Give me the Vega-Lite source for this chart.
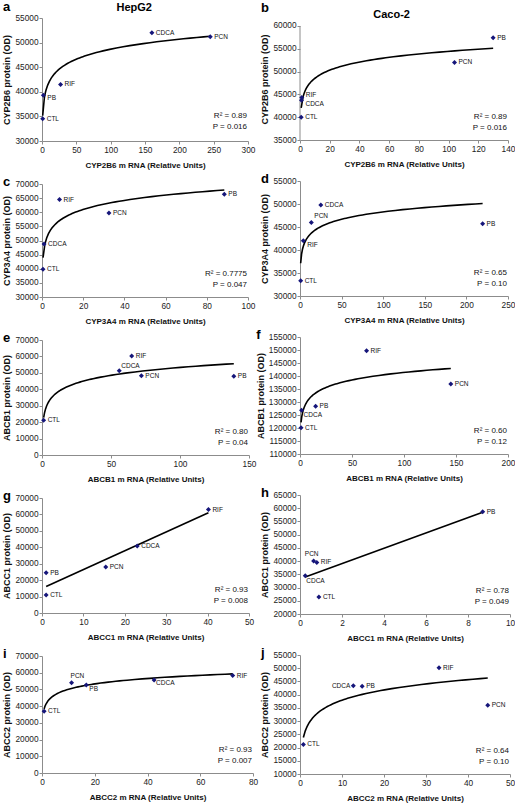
{
  "$schema": "https://vega.github.io/schema/vega-lite/v6.json",
  "padding": {"left": 2, "top": 1, "right": 0, "bottom": 0},
  "background": "white",
  "data": {"values": [
    {"panel": "a", "label": "CTL", "mrna": 1.0, "protein": 34500},
    {"panel": "a", "label": "PB", "mrna": 2.0, "protein": 39300},
    {"panel": "a", "label": "RIF", "mrna": 27, "protein": 41500},
    {"panel": "a", "label": "CDCA", "mrna": 160, "protein": 52000},
    {"panel": "a", "label": "PCN", "mrna": 245, "protein": 51200},
    {"panel": "b", "label": "CTL", "mrna": 0.8, "protein": 40000},
    {"panel": "b", "label": "RIF", "mrna": 1.2, "protein": 44300},
    {"panel": "b", "label": "CDCA", "mrna": 1.0, "protein": 43700},
    {"panel": "b", "label": "PCN", "mrna": 104, "protein": 52000},
    {"panel": "b", "label": "PB", "mrna": 130, "protein": 57400},
    {"panel": "c", "label": "CTL", "mrna": 0.5, "protein": 39800},
    {"panel": "c", "label": "CDCA", "mrna": 1.0, "protein": 48800},
    {"panel": "c", "label": "RIF", "mrna": 8.5, "protein": 64500},
    {"panel": "c", "label": "PCN", "mrna": 32.5, "protein": 59700},
    {"panel": "c", "label": "PB", "mrna": 88.5, "protein": 66400},
    {"panel": "d", "label": "CTL", "mrna": 0.8, "protein": 33300},
    {"panel": "d", "label": "RIF", "mrna": 4.0, "protein": 42000},
    {"panel": "d", "label": "PCN", "mrna": 13.6, "protein": 46000},
    {"panel": "d", "label": "CDCA", "mrna": 25, "protein": 49800},
    {"panel": "d", "label": "PB", "mrna": 219.5, "protein": 45700},
    {"panel": "e", "label": "CTL", "mrna": 1.2, "protein": 21200},
    {"panel": "e", "label": "CDCA", "mrna": 56, "protein": 51300},
    {"panel": "e", "label": "RIF", "mrna": 65, "protein": 60200},
    {"panel": "e", "label": "PCN", "mrna": 72, "protein": 48300},
    {"panel": "e", "label": "PB", "mrna": 139, "protein": 48000},
    {"panel": "f", "label": "CTL", "mrna": 1.0, "protein": 120100},
    {"panel": "f", "label": "CDCA", "mrna": 1.5, "protein": 126800},
    {"panel": "f", "label": "PB", "mrna": 15, "protein": 128400},
    {"panel": "f", "label": "RIF", "mrna": 64, "protein": 149700},
    {"panel": "f", "label": "PCN", "mrna": 145, "protein": 136900},
    {"panel": "g", "label": "CTL", "mrna": 1.0, "protein": 10900},
    {"panel": "g", "label": "PB", "mrna": 1.0, "protein": 24500},
    {"panel": "g", "label": "PCN", "mrna": 15.4, "protein": 28000},
    {"panel": "g", "label": "CDCA", "mrna": 23, "protein": 40800},
    {"panel": "g", "label": "RIF", "mrna": 40.2, "protein": 63000},
    {"panel": "h", "label": "CDCA", "mrna": 0.25, "protein": 34500},
    {"panel": "h", "label": "PCN", "mrna": 0.65, "protein": 40000},
    {"panel": "h", "label": "RIF", "mrna": 0.8, "protein": 39500},
    {"panel": "h", "label": "CTL", "mrna": 0.9, "protein": 26400},
    {"panel": "h", "label": "PB", "mrna": 8.7, "protein": 58700},
    {"panel": "i", "label": "CTL", "mrna": 0.8, "protein": 37000},
    {"panel": "i", "label": "PCN", "mrna": 11.2, "protein": 54000},
    {"panel": "i", "label": "PB", "mrna": 16.8, "protein": 52600},
    {"panel": "i", "label": "CDCA", "mrna": 42.5, "protein": 55600},
    {"panel": "i", "label": "RIF", "mrna": 72.3, "protein": 58300},
    {"panel": "j", "label": "CTL", "mrna": 0.8, "protein": 21200},
    {"panel": "j", "label": "CDCA", "mrna": 12.7, "protein": 43400},
    {"panel": "j", "label": "PB", "mrna": 14.8, "protein": 43200},
    {"panel": "j", "label": "RIF", "mrna": 33.1, "protein": 50200},
    {"panel": "j", "label": "PCN", "mrna": 44.7, "protein": 36000}
  ]},
  "config": {
    "font": "Liberation Sans",
    "view": {"stroke": null},
    "axis": {"grid": false, "domainColor": "#8c8c8c", "tickColor": "#8c8c8c", "tickSize": 3, "labelFont": "Liberation Sans", "labelFontSize": 8.3, "labelColor": "#222222", "labelPadding": 1, "labelFlush": false, "labelOverlap": false, "labelBound": false, "titleFont": "Liberation Sans", "titleFontSize": 9, "titleFontWeight": "bold", "titleColor": "#111111"},
    "axisX": {"titlePadding": 8, "titleFontSize": 8},
    "axisY": {"titlePadding": 3},
    "title": {"font": "Liberation Sans", "fontWeight": "bold", "fontSize": 13, "color": "#000000", "anchor": "start"},
    "text": {"font": "Liberation Sans", "color": "#111111"}
  },
  "spacing": -2,
  "hconcat": [
    {
      "title": {"text": "HepG2", "anchor": "middle", "fontSize": 11, "offset": -12, "dx": 4},
      "bounds": "flush",
      "spacing": 43,
      "vconcat": [
        {
          "width": 206, "height": 123,
          "title": {"text": "a", "offset": -1},
          "transform": [{"filter": "datum.panel === 'a'"}],
          "encoding": {
            "x": {"field": "mrna", "type": "quantitative", "scale": {"domain": [0, 300], "nice": false, "zero": false}, "axis": {"title": "CYP2B6 m RNA (Relative Units)", "values": [0, 50, 100, 150, 200, 250, 300], "format": "d"}},
            "y": {"field": "protein", "type": "quantitative", "scale": {"domain": [30000, 55000], "nice": false, "zero": false}, "axis": {"title": "CYP2B6 protein (OD)", "values": [30000, 35000, 40000, 45000, 50000, 55000], "format": "d"}}
          },
          "layer": [
            {"transform": [{"regression": "protein", "on": "mrna", "method": "log"}], "mark": {"type": "line", "color": "#000000", "strokeWidth": 1.6}, "encoding": {}},
            {"mark": {"type": "point", "shape": "diamond", "filled": true, "size": 25, "color": "#16167a", "opacity": 1}},
            {"transform": [{"filter": "datum.label !== 'PB'"}], "mark": {"type": "text", "align": "left", "baseline": "middle", "dx": 4, "fontSize": 6.5}, "encoding": {"text": {"field": "label"}}},
            {"transform": [{"filter": "datum.label === 'PB'"}], "mark": {"type": "text", "align": "left", "baseline": "middle", "dx": 4, "dy": 3, "fontSize": 6.5}, "encoding": {"text": {"field": "label"}}},
            {"transform": [{"filter": "datum.label === 'CTL'"}], "mark": {"type": "text", "align": "right", "baseline": "bottom", "dx": -1, "dy": -21, "fontSize": 8, "lineHeight": 11}, "encoding": {"x": {"datum": 300}, "y": {"datum": 30000}, "text": {"value": ["R² = 0.89", "P = 0.016"]}}}
          ]
        },
        {
          "width": 206, "height": 113,
          "title": {"text": "c", "offset": -10},
          "transform": [{"filter": "datum.panel === 'c'"}],
          "encoding": {
            "x": {"field": "mrna", "type": "quantitative", "scale": {"domain": [0, 100], "nice": false, "zero": false}, "axis": {"title": "CYP3A4 m RNA (Relative Units)", "values": [0, 20, 40, 60, 80, 100], "format": "d"}},
            "y": {"field": "protein", "type": "quantitative", "scale": {"domain": [30000, 70000], "nice": false, "zero": false}, "axis": {"title": "CYP3A4 protein (OD)", "values": [30000, 35000, 40000, 45000, 50000, 55000, 60000, 65000, 70000], "format": "d"}}
          },
          "layer": [
            {"transform": [{"regression": "protein", "on": "mrna", "method": "log"}], "mark": {"type": "line", "color": "#000000", "strokeWidth": 1.6}, "encoding": {}},
            {"mark": {"type": "point", "shape": "diamond", "filled": true, "size": 25, "color": "#16167a", "opacity": 1}},
            {"mark": {"type": "text", "align": "left", "baseline": "middle", "dx": 4, "fontSize": 6.5}, "encoding": {"text": {"field": "label"}}},
            {"transform": [{"filter": "datum.label === 'CTL'"}], "mark": {"type": "text", "align": "right", "baseline": "bottom", "dx": -1, "dy": -19, "fontSize": 8, "lineHeight": 11}, "encoding": {"x": {"datum": 100}, "y": {"datum": 30000}, "text": {"value": ["R² = 0.7775", "P = 0.047"]}}}
          ]
        },
        {
          "width": 207, "height": 115,
          "title": {"text": "e", "offset": -10},
          "transform": [{"filter": "datum.panel === 'e'"}],
          "encoding": {
            "x": {"field": "mrna", "type": "quantitative", "scale": {"domain": [0, 150], "nice": false, "zero": false}, "axis": {"title": "ABCB1 m RNA (Relative Units)", "values": [0, 50, 100, 150], "format": "d"}},
            "y": {"field": "protein", "type": "quantitative", "scale": {"domain": [0, 70000], "nice": false, "zero": false}, "axis": {"title": "ABCB1 protein (OD)", "values": [0, 10000, 20000, 30000, 40000, 50000, 60000, 70000], "format": "d"}}
          },
          "layer": [
            {"transform": [{"regression": "protein", "on": "mrna", "method": "log"}], "mark": {"type": "line", "color": "#000000", "strokeWidth": 1.6}, "encoding": {}},
            {"mark": {"type": "point", "shape": "diamond", "filled": true, "size": 25, "color": "#16167a", "opacity": 1}},
            {"transform": [{"filter": "datum.label !== 'CDCA'"}], "mark": {"type": "text", "align": "left", "baseline": "middle", "dx": 4, "fontSize": 6.5}, "encoding": {"text": {"field": "label"}}},
            {"transform": [{"filter": "datum.label === 'CDCA'"}], "mark": {"type": "text", "align": "left", "baseline": "middle", "dx": 2, "dy": -5, "fontSize": 6.5}, "encoding": {"text": {"field": "label"}}},
            {"transform": [{"filter": "datum.label === 'CTL'"}], "mark": {"type": "text", "align": "right", "baseline": "bottom", "dx": -1, "dy": -19, "fontSize": 8, "lineHeight": 11}, "encoding": {"x": {"datum": 150}, "y": {"datum": 0}, "text": {"value": ["R² = 0.80", "P = 0.04"]}}}
          ]
        },
        {
          "width": 207, "height": 115,
          "title": {"text": "g", "offset": -10},
          "transform": [{"filter": "datum.panel === 'g'"}],
          "encoding": {
            "x": {"field": "mrna", "type": "quantitative", "scale": {"domain": [0, 50], "nice": false, "zero": false}, "axis": {"title": "ABCC1 m RNA (Relative Units)", "values": [0, 10, 20, 30, 40, 50], "format": "d"}},
            "y": {"field": "protein", "type": "quantitative", "scale": {"domain": [0, 70000], "nice": false, "zero": false}, "axis": {"title": "ABCC1 protein (OD)", "values": [0, 10000, 20000, 30000, 40000, 50000, 60000, 70000], "format": "d"}}
          },
          "layer": [
            {"transform": [{"regression": "protein", "on": "mrna", "method": "linear"}], "mark": {"type": "line", "color": "#000000", "strokeWidth": 1.6}, "encoding": {}},
            {"mark": {"type": "point", "shape": "diamond", "filled": true, "size": 25, "color": "#16167a", "opacity": 1}},
            {"mark": {"type": "text", "align": "left", "baseline": "middle", "dx": 4, "fontSize": 6.5}, "encoding": {"text": {"field": "label"}}},
            {"transform": [{"filter": "datum.label === 'CTL'"}], "mark": {"type": "text", "align": "right", "baseline": "bottom", "dx": -1, "dy": -19, "fontSize": 8, "lineHeight": 11}, "encoding": {"x": {"datum": 50}, "y": {"datum": 0}, "text": {"value": ["R² = 0.93", "P = 0.008"]}}}
          ]
        },
        {
          "width": 211, "height": 117,
          "title": {"text": "i", "offset": -10},
          "transform": [{"filter": "datum.panel === 'i'"}],
          "encoding": {
            "x": {"field": "mrna", "type": "quantitative", "scale": {"domain": [0, 80], "nice": false, "zero": false}, "axis": {"title": "ABCC2 m RNA (Relative Units)", "values": [0, 20, 40, 60, 80], "format": "d"}},
            "y": {"field": "protein", "type": "quantitative", "scale": {"domain": [0, 70000], "nice": false, "zero": false}, "axis": {"title": "ABCC2 protein (OD)", "values": [0, 10000, 20000, 30000, 40000, 50000, 60000, 70000], "format": "d"}}
          },
          "layer": [
            {"transform": [{"regression": "protein", "on": "mrna", "method": "log"}], "mark": {"type": "line", "color": "#000000", "strokeWidth": 1.6}, "encoding": {}},
            {"mark": {"type": "point", "shape": "diamond", "filled": true, "size": 25, "color": "#16167a", "opacity": 1}},
            {"transform": [{"filter": "datum.label === 'CTL' || datum.label === 'RIF'"}], "mark": {"type": "text", "align": "left", "baseline": "middle", "dx": 4, "fontSize": 6.5}, "encoding": {"text": {"field": "label"}}},
            {"transform": [{"filter": "datum.label === 'PCN'"}], "mark": {"type": "text", "align": "left", "baseline": "middle", "dx": -1, "dy": -7, "fontSize": 6.5}, "encoding": {"text": {"field": "label"}}},
            {"transform": [{"filter": "datum.label === 'PB'"}], "mark": {"type": "text", "align": "left", "baseline": "middle", "dx": 3, "dy": 4, "fontSize": 6.5}, "encoding": {"text": {"field": "label"}}},
            {"transform": [{"filter": "datum.label === 'CDCA'"}], "mark": {"type": "text", "align": "left", "baseline": "middle", "dx": 2, "dy": 3, "fontSize": 6.5}, "encoding": {"text": {"field": "label"}}},
            {"transform": [{"filter": "datum.label === 'CTL'"}], "mark": {"type": "text", "align": "right", "baseline": "bottom", "dx": -1, "dy": -19, "fontSize": 8, "lineHeight": 11}, "encoding": {"x": {"datum": 80}, "y": {"datum": 0}, "text": {"value": ["R² = 0.93", "P = 0.007"]}}}
          ]
        }
      ]
    },
    {
      "title": {"text": "Caco-2", "anchor": "middle", "fontSize": 11, "offset": -18, "dx": 6},
      "bounds": "flush",
      "spacing": 41,
      "vconcat": [
        {
          "width": 208, "height": 122,
          "title": {"text": "b", "offset": 3.5},
          "transform": [{"filter": "datum.panel === 'b'"}],
          "encoding": {
            "x": {"field": "mrna", "type": "quantitative", "scale": {"domain": [0, 140], "nice": false, "zero": false}, "axis": {"title": "CYP2B6 m RNA (Relative Units)", "values": [0, 20, 40, 60, 80, 100, 120, 140], "format": "d"}},
            "y": {"field": "protein", "type": "quantitative", "scale": {"domain": [35000, 61754], "nice": false, "zero": false}, "axis": {"title": "CYP2B6 protein (OD)", "values": [35000, 40000, 45000, 50000, 55000, 60000], "format": "d", "domain": false}}
          },
          "layer": [
            {"transform": [{"filter": "datum.label === 'CTL'"}], "mark": {"type": "rule", "color": "#8c8c8c", "strokeWidth": 1}, "encoding": {"x": {"datum": 0}, "y": {"datum": 35000}, "y2": {"datum": 60000}}},
            {"transform": [{"regression": "protein", "on": "mrna", "method": "log"}], "mark": {"type": "line", "color": "#000000", "strokeWidth": 1.6}, "encoding": {}},
            {"mark": {"type": "point", "shape": "diamond", "filled": true, "size": 25, "color": "#16167a", "opacity": 1}},
            {"transform": [{"filter": "datum.label !== 'RIF' && datum.label !== 'CDCA'"}], "mark": {"type": "text", "align": "left", "baseline": "middle", "dx": 4, "fontSize": 6.5}, "encoding": {"text": {"field": "label"}}},
            {"transform": [{"filter": "datum.label === 'RIF'"}], "mark": {"type": "text", "align": "left", "baseline": "middle", "dx": 4, "dy": -3, "fontSize": 6.5}, "encoding": {"text": {"field": "label"}}},
            {"transform": [{"filter": "datum.label === 'CDCA'"}], "mark": {"type": "text", "align": "left", "baseline": "middle", "dx": 4, "dy": 4, "fontSize": 6.5}, "encoding": {"text": {"field": "label"}}},
            {"transform": [{"filter": "datum.label === 'CTL'"}], "mark": {"type": "text", "align": "right", "baseline": "bottom", "dx": -1, "dy": -19, "fontSize": 8, "lineHeight": 11}, "encoding": {"x": {"datum": 140}, "y": {"datum": 35000}, "text": {"value": ["R² = 0.89", "P = 0.016"]}}}
          ]
        },
        {
          "width": 208, "height": 115,
          "title": {"text": "d", "offset": -10},
          "transform": [{"filter": "datum.panel === 'd'"}],
          "encoding": {
            "x": {"field": "mrna", "type": "quantitative", "scale": {"domain": [0, 250], "nice": false, "zero": false}, "axis": {"title": "CYP3A4 m RNA (Relative Units)", "values": [0, 50, 100, 150, 200, 250], "format": "d"}},
            "y": {"field": "protein", "type": "quantitative", "scale": {"domain": [30000, 55000], "nice": false, "zero": false}, "axis": {"title": "CYP3A4 protein (OD)", "values": [30000, 35000, 40000, 45000, 50000, 55000], "format": "d"}}
          },
          "layer": [
            {"transform": [{"regression": "protein", "on": "mrna", "method": "log"}], "mark": {"type": "line", "color": "#000000", "strokeWidth": 1.6}, "encoding": {}},
            {"mark": {"type": "point", "shape": "diamond", "filled": true, "size": 25, "color": "#16167a", "opacity": 1}},
            {"transform": [{"filter": "datum.label !== 'PCN' && datum.label !== 'RIF'"}], "mark": {"type": "text", "align": "left", "baseline": "middle", "dx": 4, "fontSize": 6.5}, "encoding": {"text": {"field": "label"}}},
            {"transform": [{"filter": "datum.label === 'PCN'"}], "mark": {"type": "text", "align": "left", "baseline": "middle", "dx": 3, "dy": -6, "fontSize": 6.5}, "encoding": {"text": {"field": "label"}}},
            {"transform": [{"filter": "datum.label === 'RIF'"}], "mark": {"type": "text", "align": "left", "baseline": "middle", "dx": 4, "dy": 4, "fontSize": 6.5}, "encoding": {"text": {"field": "label"}}},
            {"transform": [{"filter": "datum.label === 'CTL'"}], "mark": {"type": "text", "align": "right", "baseline": "bottom", "dx": -1, "dy": -19, "fontSize": 8, "lineHeight": 11}, "encoding": {"x": {"datum": 250}, "y": {"datum": 30000}, "text": {"value": ["R² = 0.65", "P = 0.10"]}}}
          ]
        },
        {
          "width": 208, "height": 117,
          "title": {"text": "f", "offset": -10},
          "transform": [{"filter": "datum.panel === 'f'"}],
          "encoding": {
            "x": {"field": "mrna", "type": "quantitative", "scale": {"domain": [0, 200], "nice": false, "zero": false}, "axis": {"title": "ABCB1 m RNA (Relative Units)", "values": [0, 50, 100, 150, 200], "format": "d"}},
            "y": {"field": "protein", "type": "quantitative", "scale": {"domain": [110000, 155000], "nice": false, "zero": false}, "axis": {"title": "ABCB1 protein (OD)", "values": [110000, 115000, 120000, 125000, 130000, 135000, 140000, 145000, 150000, 155000], "format": "d"}}
          },
          "layer": [
            {"transform": [{"regression": "protein", "on": "mrna", "method": "log"}], "mark": {"type": "line", "color": "#000000", "strokeWidth": 1.6}, "encoding": {}},
            {"mark": {"type": "point", "shape": "diamond", "filled": true, "size": 25, "color": "#16167a", "opacity": 1}},
            {"transform": [{"filter": "datum.label !== 'CDCA'"}], "mark": {"type": "text", "align": "left", "baseline": "middle", "dx": 4, "fontSize": 6.5}, "encoding": {"text": {"field": "label"}}},
            {"transform": [{"filter": "datum.label === 'CDCA'"}], "mark": {"type": "text", "align": "left", "baseline": "middle", "dx": 2, "dy": 5, "fontSize": 6.5}, "encoding": {"text": {"field": "label"}}},
            {"transform": [{"filter": "datum.label === 'CTL'"}], "mark": {"type": "text", "align": "right", "baseline": "bottom", "dx": -1, "dy": -19, "fontSize": 8, "lineHeight": 11}, "encoding": {"x": {"datum": 200}, "y": {"datum": 110000}, "text": {"value": ["R² = 0.60", "P = 0.12"]}}}
          ]
        },
        {
          "width": 210, "height": 119,
          "title": {"text": "h", "offset": -10},
          "transform": [{"filter": "datum.panel === 'h'"}],
          "encoding": {
            "x": {"field": "mrna", "type": "quantitative", "scale": {"domain": [0, 10], "nice": false, "zero": false}, "axis": {"title": "ABCC1 m RNA (Relative Units)", "values": [0, 2, 4, 6, 8, 10], "format": "d"}},
            "y": {"field": "protein", "type": "quantitative", "scale": {"domain": [20000, 65000], "nice": false, "zero": false}, "axis": {"title": "ABCC1 protein (OD)", "values": [20000, 25000, 30000, 35000, 40000, 45000, 50000, 55000, 60000, 65000], "format": "d"}}
          },
          "layer": [
            {"transform": [{"regression": "protein", "on": "mrna", "method": "linear"}], "mark": {"type": "line", "color": "#000000", "strokeWidth": 1.6}, "encoding": {}},
            {"mark": {"type": "point", "shape": "diamond", "filled": true, "size": 25, "color": "#16167a", "opacity": 1}},
            {"transform": [{"filter": "datum.label !== 'PCN' && datum.label !== 'CDCA'"}], "mark": {"type": "text", "align": "left", "baseline": "middle", "dx": 4, "fontSize": 6.5}, "encoding": {"text": {"field": "label"}}},
            {"transform": [{"filter": "datum.label === 'PCN'"}], "mark": {"type": "text", "align": "center", "baseline": "middle", "dx": -2, "dy": -7, "fontSize": 6.5}, "encoding": {"text": {"field": "label"}}},
            {"transform": [{"filter": "datum.label === 'CDCA'"}], "mark": {"type": "text", "align": "left", "baseline": "middle", "dx": 1, "dy": 5, "fontSize": 6.5}, "encoding": {"text": {"field": "label"}}},
            {"transform": [{"filter": "datum.label === 'CTL'"}], "mark": {"type": "text", "align": "right", "baseline": "bottom", "dx": -1, "dy": -19, "fontSize": 8, "lineHeight": 11}, "encoding": {"x": {"datum": 10}, "y": {"datum": 20000}, "text": {"value": ["R² = 0.78", "P = 0.049"]}}}
          ]
        },
        {
          "width": 210, "height": 119,
          "title": {"text": "j", "offset": -10},
          "transform": [{"filter": "datum.panel === 'j'"}],
          "encoding": {
            "x": {"field": "mrna", "type": "quantitative", "scale": {"domain": [0, 50], "nice": false, "zero": false}, "axis": {"title": "ABCC2 m RNA (Relative Units)", "values": [0, 10, 20, 30, 40, 50], "format": "d"}},
            "y": {"field": "protein", "type": "quantitative", "scale": {"domain": [10000, 55000], "nice": false, "zero": false}, "axis": {"title": "ABCC2 protein (OD)", "values": [10000, 15000, 20000, 25000, 30000, 35000, 40000, 45000, 50000, 55000], "format": "d"}}
          },
          "layer": [
            {"transform": [{"regression": "protein", "on": "mrna", "method": "log"}], "mark": {"type": "line", "color": "#000000", "strokeWidth": 1.6}, "encoding": {}},
            {"mark": {"type": "point", "shape": "diamond", "filled": true, "size": 25, "color": "#16167a", "opacity": 1}},
            {"transform": [{"filter": "datum.label !== 'CDCA'"}], "mark": {"type": "text", "align": "left", "baseline": "middle", "dx": 4, "fontSize": 6.5}, "encoding": {"text": {"field": "label"}}},
            {"transform": [{"filter": "datum.label === 'CDCA'"}], "mark": {"type": "text", "align": "right", "baseline": "middle", "dx": -3, "fontSize": 6.5}, "encoding": {"text": {"field": "label"}}},
            {"transform": [{"filter": "datum.label === 'CTL'"}], "mark": {"type": "text", "align": "right", "baseline": "bottom", "dx": -1, "dy": -19, "fontSize": 8, "lineHeight": 11}, "encoding": {"x": {"datum": 50}, "y": {"datum": 10000}, "text": {"value": ["R² = 0.64", "P = 0.10"]}}}
          ]
        }
      ]
    }
  ]
}
